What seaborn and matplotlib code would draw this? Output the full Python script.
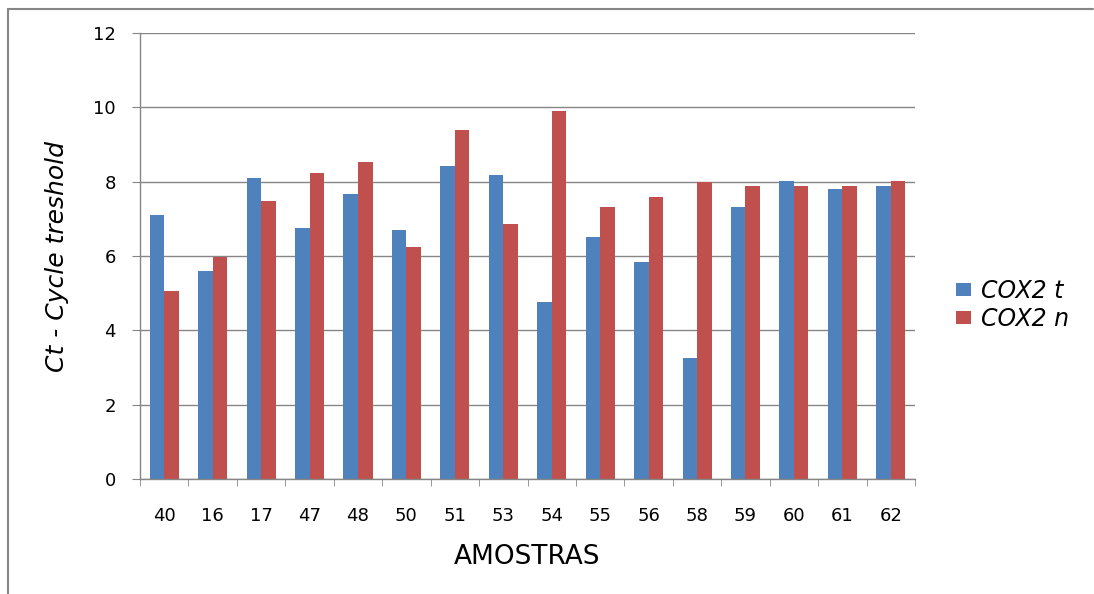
import pandas as pd
import seaborn as sns
import matplotlib.pyplot as plt
from matplotlib.lines import Line2D
from matplotlib.ticker import MultipleLocator, FixedLocator

amostras = ['40', '16', '17', '47', '48', '50', '51', '53', '54', '55', '56', '58', '59', '60', '61', '62']
cox2_t = [7.10, 5.60, 8.09, 6.74, 7.68, 6.71, 8.41, 8.17, 4.77, 6.52, 5.85, 3.26, 7.33, 8.01, 7.79, 7.87]
cox2_n = [5.07, 5.98, 7.49, 8.22, 8.54, 6.25, 9.38, 6.87, 9.89, 7.33, 7.60, 8.00, 7.87, 7.87, 7.87, 8.01]
series = ['COX2 t', 'COX2 n']
colors = ['#4F81BD', '#C0504D']


def create_cox2_bars(output_path='out.png'):
    df = pd.DataFrame({
        'amostra': amostras * 2,
        'ct': cox2_t + cox2_n,
        'serie': [series[0]] * len(amostras) + [series[1]] * len(amostras),
    })

    sns.set_style("white")
    plt.rcParams['font.family'] = ['DejaVu Sans']
    plt.rcParams['text.color'] = 'black'
    plt.rcParams['axes.labelcolor'] = 'black'

    fig = plt.figure(figsize=(10.94, 5.94), dpi=100)
    ax = fig.add_axes([140 / 1094, 115 / 594, 775 / 1094, 446 / 594])

    sns.barplot(
        data=df, x='amostra', y='ct', hue='serie',
        order=amostras, hue_order=series, palette=colors,
        width=0.6, gap=0, saturation=1, linewidth=0, ax=ax
    )

    grid_col = '#868686'
    ax.set_ylim(0, 12)
    ax.set_xlim(-0.5, len(amostras) - 0.5)
    ax.yaxis.set_major_locator(MultipleLocator(2))
    ax.grid(axis='y', color=grid_col, linewidth=1)
    ax.set_axisbelow(True)

    for side in ['top', 'right']:
        ax.spines[side].set_visible(False)
    for side in ['left', 'bottom']:
        ax.spines[side].set_color(grid_col)
        ax.spines[side].set_linewidth(1)

    # y ticks stick out to the left, x ticks sit between the categories
    ax.tick_params(axis='y', direction='out', length=5.8, color=grid_col,
                   labelcolor='black', labelsize=13, pad=11.5, left=True)
    ax.tick_params(axis='x', which='major', length=0, labelcolor='black',
                   labelsize=13, pad=20)
    ax.xaxis.set_minor_locator(FixedLocator([i - 0.5 for i in range(len(amostras) + 1)]))
    ax.tick_params(axis='x', which='minor', direction='out', length=5,
                   color=grid_col, bottom=True)

    ax.set_xlabel('AMOSTRAS', fontsize=19, labelpad=14, color='black')
    ax.set_ylabel('Ct - Cycle treshold', fontsize=18, style='italic',
                  labelpad=17, color='black')

    leg = ax.legend(title=None, loc='center left', bbox_to_anchor=(1.053, 0.39),
                    frameon=False, fontsize=17, borderpad=0, borderaxespad=0,
                    handlelength=0.64, handleheight=0.47,
                    handletextpad=0.4, labelspacing=0.15)
    for t in leg.get_texts():
        t.set_fontstyle('italic')
        t.set_color('black')

    # outer chart frame (only top and left edges show)
    fig.add_artist(Line2D([8 / 1094, 1093 / 1094], [1 - 9 / 594, 1 - 9 / 594],
                          transform=fig.transFigure, color=grid_col, linewidth=1.5))
    fig.add_artist(Line2D([8 / 1094, 8 / 1094], [0, 1 - 9 / 594],
                          transform=fig.transFigure, color=grid_col, linewidth=1.5))

    fig.savefig(output_path, dpi=100)
    plt.close(fig)


if __name__ == "__main__":
    create_cox2_bars()
